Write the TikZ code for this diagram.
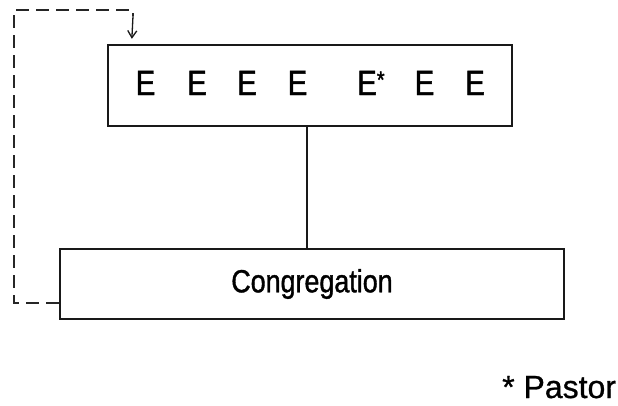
\documentclass[tikz,border=0pt]{standalone}
\usepackage{fontspec}
\setmainfont{Liberation Sans}[FakeBold=0.8]
\newfontfamily\narrowsans[FakeStretch=0.84]{Liberation Sans}
\newfontfamily\narrowbold[FakeStretch=0.84,FakeBold=1.2]{Liberation Sans}
\newfontfamily\plainbold[FakeBold=0.8]{Liberation Sans}
\usetikzlibrary{arrows.meta}
\tikzset{
  boxline/.style={draw=black!90, line width=2.3pt, inner sep=0pt},
  eletter/.style={anchor=base, inner sep=0pt, font=\narrowbold\fontsize{35}{35}\selectfont},
  dashline/.style={draw=black!85, line width=2.2pt, dash pattern=on 13pt off 7pt},
  arrline/.style={draw=black!90, line width=1.3pt, -{Straight Barb[length=7pt,width=9pt]}},
  linkline/.style={draw=black!90, line width=1.7pt}
}
\begin{document}
\begin{tikzpicture}[x=1pt,y=-1pt]
\useasboundingbox (0,0) rectangle (618,405);
% top box
\node[boxline, minimum width=404pt, minimum height=81pt] (top) at (310,85.5) {};
\node[eletter] (e1) at (145.5,95) {E};
\node[eletter] (e2) at (197,95) {E};
\node[eletter] (e3) at (247,95) {E};
\node[eletter] (e4) at (297.5,95) {E};
\node[eletter, anchor=base west] (e5) at (357,95) {E\raisebox{7pt}{\fontsize{24}{24}\selectfont *}};
\node[eletter] (e6) at (424.5,95) {E};
\node[eletter] (e7) at (475,95) {E};
% bottom box
\node[boxline, minimum width=504pt, minimum height=70pt,
      font=\narrowbold\fontsize{32}{32}\selectfont] (bot) at (312,284) {Congregation};
% connector
\coordinate (cx) at (307,0);
\draw[linkline] (top.south -| cx) -- (bot.north -| cx);
% feedback dashed loop
\coordinate (c1) at (14,303);
\coordinate (c2) at (14,10);
\coordinate (c3) at (133,10);
\coordinate (c4) at (133,16);
\draw[dashline] ([yshift=-19pt]bot.west) -- (c1) -- (c2) -- (c3) -- (c4);
\draw[arrline] (c4) -- ([xshift=25pt,yshift=5pt]top.north west);
% footnote
\node[anchor=base west, inner sep=0pt, font=\plainbold\fontsize{32}{32}\selectfont] (pastor) at (502,398) {* Pastor};
\end{tikzpicture}
\end{document}
